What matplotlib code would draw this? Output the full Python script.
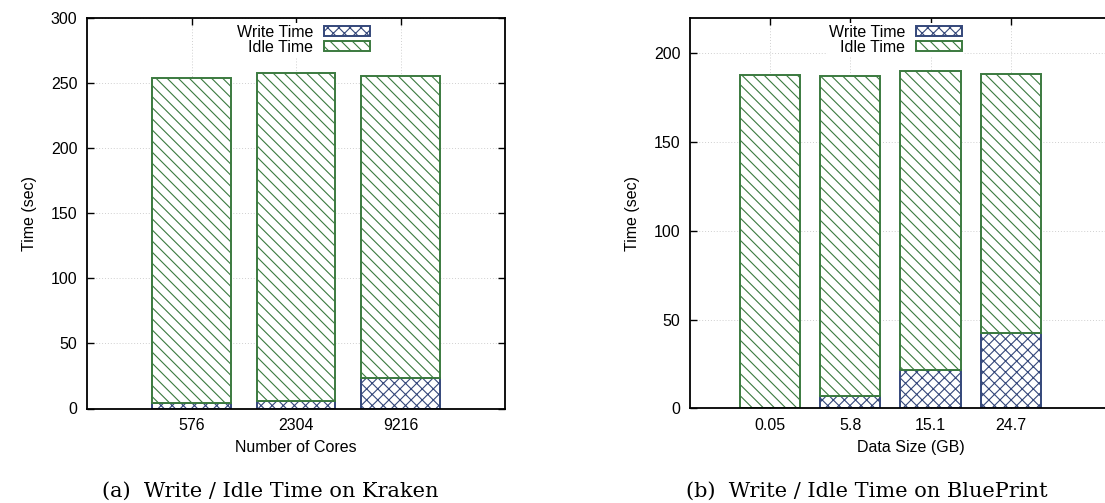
import numpy as np
import matplotlib
matplotlib.use("Agg")
import matplotlib.pyplot as plt

# Kraken data
cores = ["576", "2304", "9216"]
kraken_write = [4.0, 5.6, 23.7]
kraken_total = [254.0, 258.0, 255.5]

# BluePrint data
sizes = ["0.05", "5.8", "15.1", "24.7"]
bp_write = [0.0, 7.1, 21.6, 42.3]
bp_total = [187.8, 187.3, 190.2, 188.3]

plt.rcParams['font.family'] = ['Liberation Sans', 'DejaVu Sans']
plt.rcParams['hatch.linewidth'] = 0.8

WRITE_C = '#34477a'
IDLE_C = '#3b7a3f'
W, H = 1105, 503

fig = plt.figure(figsize=(W / 100, H / 100), dpi=100)


def px_axes(left, right, top, bottom):
    return fig.add_axes([left / W, 1 - bottom / H, (right - left) / W, (bottom - top) / H])


def draw(ax, labels, write, total, ylim, yticks, xlim, xlabel):
    x = np.arange(1, len(labels) + 1)
    idle = np.array(total) - np.array(write)
    ax.bar(x, write, width=0.75, color='white', edgecolor=WRITE_C,
           hatch='xxx', linewidth=1.4, label='Write Time', zorder=2)
    ax.bar(x, idle, width=0.75, bottom=write, color='white', edgecolor=IDLE_C,
           hatch='\\\\\\', linewidth=1.4, label='Idle Time', zorder=2)
    ax.set_xlim(*xlim)
    ax.set_ylim(*ylim)
    ax.set_xticks(x)
    ax.set_xticklabels(labels)
    ax.set_yticks(yticks)
    ax.tick_params(direction='in', top=True, right=True, length=5, width=1,
                   labelsize=11.5, pad=7)
    ax.grid(True, linestyle=(0, (1, 2)), color='#d0d0d0', linewidth=0.7, zorder=0)
    ax.set_axisbelow(True)
    for s in ax.spines.values():
        s.set_linewidth(1.3)
    ax.set_ylabel('Time (sec)', fontsize=11.5, labelpad=10)
    ax.set_xlabel(xlabel, fontsize=11.5, labelpad=5)


legend_kw = dict(loc='upper right', bbox_transform=fig.transFigure,
                 markerfirst=False, frameon=True, edgecolor='none',
                 facecolor='white', framealpha=1, fontsize=11.5,
                 handlelength=2.9, handleheight=0.55, handletextpad=0.7,
                 labelspacing=0.02, borderpad=0.1, borderaxespad=0)

ax1 = px_axes(87, 505, 18, 408.5)
draw(ax1, cores, kraken_write, kraken_total, (0, 300), range(0, 301, 50),
     (0, 4), 'Number of Cores')
ax1.legend(bbox_to_anchor=(372 / W, 1 - 23 / H), **legend_kw)

ax2 = px_axes(690, 1131, 18, 408.3)
draw(ax2, sizes, bp_write, bp_total, (0, 220), range(0, 201, 50),
     (0, 5.5), 'Data Size (GB)')
ax2.legend(bbox_to_anchor=(964 / W, 1 - 23 / H), **legend_kw)

cap_font = ['DejaVu Serif']
fig.text(270 / W, 1 - 491 / H, '(a)  Write / Idle Time on Kraken', ha='center',
         va='center', fontsize=15, family=cap_font)
fig.text(867 / W, 1 - 491 / H, '(b)  Write / Idle Time on BluePrint', ha='center',
         va='center', fontsize=15, family=cap_font)

fig.savefig('out.png', dpi=100)
